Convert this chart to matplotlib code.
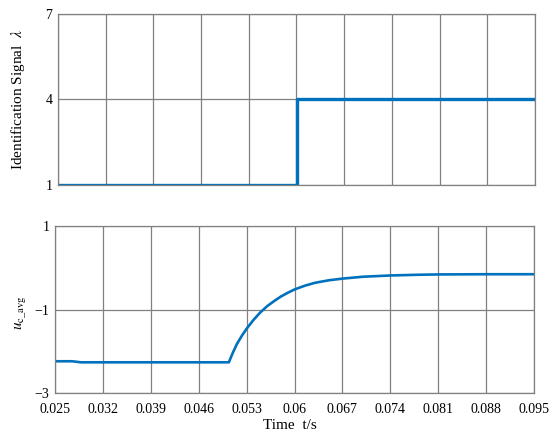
import matplotlib.pyplot as plt
import numpy as np

plt.rcParams['font.family'] = ['Liberation Serif', 'DejaVu Serif']
plt.rcParams['mathtext.fontset'] = 'stix'
plt.rcParams['font.size'] = 10

# identification signal (step)
t_sig = [0.025, 0.0601, 0.0601, 0.095]
lam = [1, 1, 4, 4]

# averaged capacitor voltage
t_u = [0.025, 0.0275, 0.0288, 0.0504, 0.051, 0.0516, 0.0523, 0.053, 0.054,
       0.055, 0.056, 0.057, 0.058, 0.059, 0.060, 0.0615, 0.063, 0.065,
       0.067, 0.070, 0.074, 0.078, 0.081, 0.088, 0.095]
u_avg = [-2.24, -2.24, -2.265, -2.265, -2.03, -1.82, -1.63, -1.46, -1.25,
         -1.07, -0.92, -0.80, -0.69, -0.60, -0.52, -0.43, -0.36, -0.30,
         -0.26, -0.215, -0.185, -0.168, -0.16, -0.155, -0.155]

x_ticks = [0.025, 0.032, 0.039, 0.046, 0.053, 0.06, 0.067, 0.074, 0.081, 0.088, 0.095]
x_ticklabels = ["0.025", "0.032", "0.039", "0.046", "0.053", "0.06",
                "0.067", "0.074", "0.081", "0.088", "0.095"]

blue = "#0072bd"
grid_c = "#808080"

fig = plt.figure(figsize=(5.5, 4.37), dpi=100)
ax1 = fig.add_axes([0.1055, 0.5775, 0.867, 0.391])
ax2 = fig.add_axes([0.1, 0.1007, 0.871, 0.3821])

for ax in (ax1, ax2):
    ax.set_xlim(0.025, 0.095)
    ax.set_xticks(x_ticks)
    ax.grid(True, color=grid_c, linewidth=0.9)
    ax.tick_params(length=0, pad=4)
    for s in ax.spines.values():
        s.set_color(grid_c)
        s.set_linewidth(0.9)

ax1.plot(t_sig, lam, color=blue, linewidth=2.4)
ax1.set_ylim(1, 7)
ax1.set_yticks([1, 4, 7])
ax1.set_xticklabels([])
ax1.set_ylabel("Identification Signal  $\\lambda$", fontsize=11)
ax1.yaxis.set_label_coords(-0.065, 0.5)

ax2.plot(t_u, u_avg, color=blue, linewidth=1.9, solid_joinstyle="round")
ax2.set_ylim(-3, 1)
ax2.set_yticks([-3, -1, 1])
ax2.set_yticklabels(["\u22123", "\u22121", "1"])
ax2.set_xticklabels(x_ticklabels)
ax2.tick_params(axis="x", pad=7.5)
ax2.set_ylabel("$u_{\\mathrm{c\\_avg}}$", fontsize=11)
ax2.yaxis.set_label_coords(-0.057, 0.48)
ax2.set_xlabel("Time  t/s", fontsize=11)
ax2.xaxis.set_label_coords(0.49, -0.155)

fig.savefig("out.png", dpi=100)
